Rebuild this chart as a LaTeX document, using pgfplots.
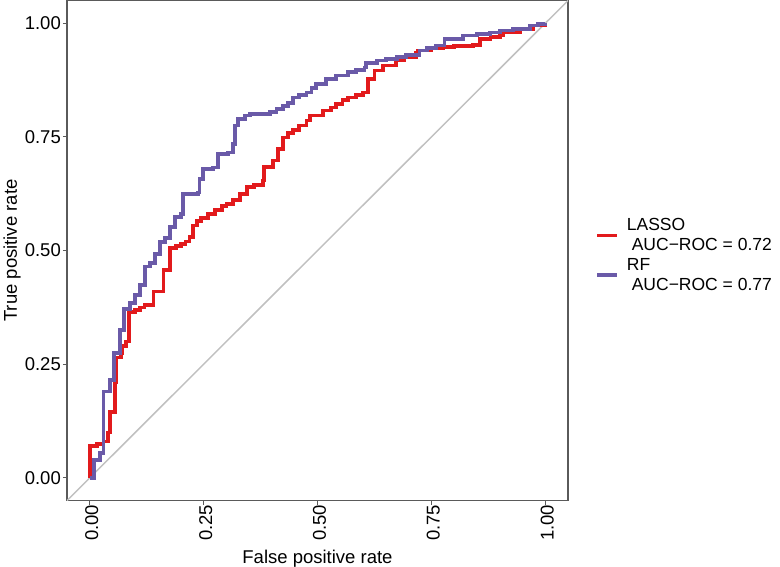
\documentclass[border=0pt]{standalone}
\usepackage{pgfplots}
\pgfplotsset{compat=1.18}
\usepackage{fontspec}
\setmainfont{Liberation Sans}

\definecolor{lassored}{RGB}{226,26,28}
\definecolor{rfpurple}{RGB}{106,90,168}
\definecolor{diaggray}{RGB}{192,192,192}
\definecolor{framegray}{RGB}{90,90,90}

\begin{document}
\begin{tikzpicture}
% overall canvas
\path[use as bounding box] (-67bp,-66bp) rectangle (713bp,500.6bp);
\begin{axis}[
  at={(0bp,0bp)}, anchor=south west,
  width=501bp, height=500bp, scale only axis,
  xmin=-0.05, xmax=1.05, ymin=-0.05, ymax=1.05,
  axis line style={framegray, line width=1.1bp},
  tick style={framegray, line width=1bp},
  tick align=outside, major tick length=4bp,
  xtick pos=bottom, ytick pos=left,
  xtick={0,0.25,0.5,0.75,1}, ytick={0,0.25,0.5,0.75,1},
  xticklabels={0.00,0.25,0.50,0.75,1.00},
  yticklabels={0.00,0.25,0.50,0.75,1.00},
  ticklabel style={font=\fontsize{18.5bp}{22bp}\selectfont, text=black},
  xticklabel style={rotate=90, anchor=east, inner sep=0pt, yshift=-2bp},
  yticklabel style={anchor=east, inner sep=0pt, xshift=-2bp},
  xlabel={False positive rate},
  ylabel={True positive rate},
  label style={font=\fontsize{18.5bp}{22bp}\selectfont, text=black, inner sep=0pt},
  xlabel style={at={(axis description cs:0.5,-0.125)}, anchor=base},
  ylabel style={at={(axis description cs:-0.0918,0.5)}, anchor=south},
  legend cell align=left,
  legend style={at={(axis description cs:1.0545,0.491)}, anchor=west,
    draw=none, fill=none, inner sep=0pt, row sep=6bp, column sep=8bp,
    font=\fontsize{17.5bp}{20bp}\selectfont,
    nodes={align=left, inner sep=0pt}},
  legend image code/.code={\draw[#1, line width=3.4bp] (0bp,0bp) -- (20bp,0bp);},
]
% chance line
\addplot[diaggray, line width=1.5bp, forget plot] coordinates {(-0.05,-0.05) (1.05,1.05)};

% LASSO ROC staircase: (false positive rate, true positive rate)
\addplot[lassored, line width=3.8bp, const plot] coordinates {
(0,0) (0,0.07) (0.015,0.075) (0.03,0.08) (0.04,0.10) (0.045,0.145)
(0.055,0.21) (0.057,0.265) (0.068,0.275) (0.072,0.29) (0.08,0.30)
(0.086,0.365) (0.10,0.37) (0.11,0.375) (0.12,0.38) (0.14,0.41)
(0.162,0.458) (0.176,0.505) (0.19,0.51) (0.20,0.515) (0.21,0.52)
(0.219,0.53) (0.227,0.555) (0.235,0.565) (0.245,0.572) (0.26,0.58)
(0.275,0.59) (0.29,0.598) (0.30,0.602) (0.315,0.612) (0.33,0.625)
(0.345,0.64) (0.36,0.645) (0.38,0.654) (0.382,0.684) (0.402,0.698)
(0.413,0.724) (0.424,0.749) (0.435,0.758) (0.446,0.766) (0.46,0.775)
(0.476,0.786) (0.483,0.797) (0.512,0.808) (0.53,0.815) (0.541,0.823)
(0.555,0.832) (0.567,0.837) (0.585,0.842) (0.60,0.848) (0.611,0.878)
(0.625,0.896) (0.644,0.907) (0.673,0.918) (0.69,0.925) (0.717,0.935)
(0.72,0.94) (0.75,0.945) (0.775,0.948) (0.80,0.95) (0.841,0.952)
(0.856,0.966) (0.88,0.97) (0.90,0.973) (0.907,0.98) (0.944,0.988)
(0.973,0.995) (1.0,1.0)
};
\addlegendentry{LASSO\\\hspace*{0.28em}AUC−ROC = 0.72}

% random forest ROC staircase
\addplot[rfpurple, line width=3.8bp, const plot] coordinates {
(0,0) (0.01,0.04) (0.022,0.054) (0.03,0.19) (0.044,0.215) (0.053,0.274)
(0.066,0.325) (0.075,0.372) (0.088,0.385) (0.099,0.403) (0.11,0.425)
(0.121,0.465) (0.132,0.473) (0.143,0.493) (0.154,0.519) (0.165,0.527)
(0.176,0.552) (0.187,0.574) (0.201,0.581) (0.205,0.625) (0.238,0.628)
(0.241,0.658) (0.249,0.68) (0.27,0.683) (0.282,0.713) (0.303,0.716)
(0.315,0.735) (0.318,0.775) (0.326,0.79) (0.34,0.797) (0.351,0.801)
(0.395,0.805) (0.41,0.812) (0.425,0.818) (0.435,0.824) (0.446,0.837)
(0.46,0.842) (0.476,0.848) (0.487,0.858) (0.497,0.867) (0.519,0.878)
(0.541,0.885) (0.567,0.893) (0.585,0.898) (0.603,0.903) (0.607,0.913)
(0.63,0.918) (0.651,0.922) (0.675,0.926) (0.695,0.93) (0.724,0.94)
(0.74,0.946) (0.761,0.951) (0.779,0.966) (0.819,0.973) (0.85,0.976)
(0.878,0.98) (0.9,0.984) (0.929,0.988) (0.966,0.995) (0.984,0.998)
(1.0,1.0)
};
\addlegendentry{RF\\\hspace*{0.28em}AUC−ROC = 0.77}
\end{axis}
\end{tikzpicture}
\end{document}
